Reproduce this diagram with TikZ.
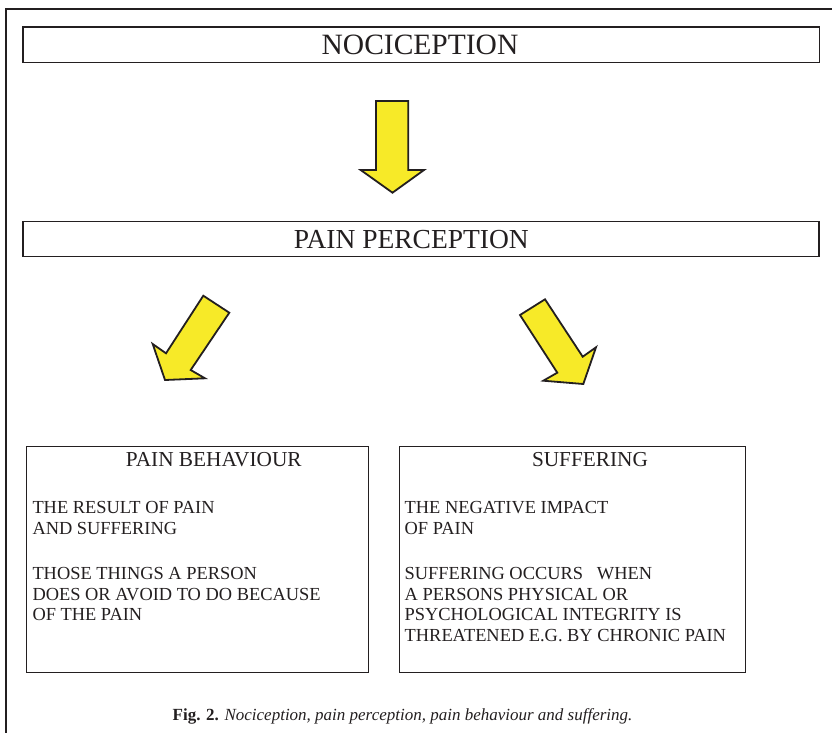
\documentclass[tikz,border=0pt]{standalone}
\usepackage{fontspec}
\setmainfont{Liberation Serif}
\definecolor{arrowyellow}{RGB}{247,234,40}
\definecolor{ink}{RGB}{35,31,32}
\begin{document}
\begin{tikzpicture}[x=1pt,y=-1pt,
  bigbox/.style={draw=ink, line width=1.2pt, inner sep=0pt, anchor=north west},
  smallbox/.style={draw=ink, line width=0.9pt, inner sep=0pt, anchor=north west},
  yarrow/.style={fill=arrowyellow, draw=ink, line width=1.8pt, line join=miter},
  headtext/.style={font=\fontsize{27.5}{32}\selectfont, text=ink, inner sep=0pt, anchor=base},
  titletext/.style={font=\fontsize{21.3}{25}\selectfont, text=ink, inner sep=0pt, anchor=base},
  bodytext/.style={font=\fontsize{18.4}{21}\selectfont, text=ink, inner sep=0pt, anchor=base west},
  captext/.style={font=\fontsize{17}{20}\selectfont, text=ink, inner sep=0pt, anchor=base}]
\useasboundingbox (0,0) rectangle (832,732);
% outer frame (top and left edges)
\draw[ink, line width=2.4pt, line join=miter] (6.1,733) -- (6.1,9.2) -- (833,9.2);
% top boxes
\node[bigbox, minimum width=796.2pt, minimum height=35.4pt] (nocibox) at (22.3,26.3) {};
\node[headtext, font=\fontsize{29.5}{34}\selectfont] (noci) at (420,54) {NOCICEPTION};
\node[bigbox, minimum width=796pt, minimum height=35.3pt] (percbox) at (22.3,220.7) {};
\node[headtext] (perc) at (411.3,248.3) {PAIN PERCEPTION};
% arrows
\draw[yarrow] (376,101) -- (408.3,101) -- (408.3,170) -- (424,170) -- (392.5,192.7) -- (360.7,170) -- (376,170) -- cycle;
\draw[yarrow] (203.3,295.7) -- (229.3,312.7) -- (190.7,370) -- (205,378.3) -- (165,380) -- (152.7,344) -- (166,353.3) -- cycle;
\draw[yarrow] (520,315) -- (545,299.3) -- (582.7,356.7) -- (596,347.3) -- (583.3,384) -- (543.3,380.7) -- (557.3,372.7) -- cycle;
% bottom boxes
\node[smallbox, minimum width=341.4pt, minimum height=225.7pt] (behbox) at (26.3,446) {};
\node[smallbox, minimum width=345.7pt, minimum height=225.7pt] (sufbox) at (399.3,446) {};
\node[titletext] (behtitle) at (213.8,466) {PAIN BEHAVIOUR};
\node[titletext] (suftitle) at (590,466) {SUFFERING};
\node[bodytext] (b1) at (32.3,513.3) {THE RESULT OF PAIN};
\node[bodytext] (b2) at (32.3,534) {AND SUFFERING};
\node[bodytext] (b3) at (32.3,579.3) {THOSE THINGS A PERSON};
\node[bodytext] (b4) at (32.3,600) {DOES OR AVOID TO DO BECAUSE};
\node[bodytext] (b5) at (32.3,620.7) {OF THE PAIN};
\node[bodytext] (s1) at (404.5,513.3) {THE NEGATIVE IMPACT};
\node[bodytext] (s2) at (404.5,534) {OF PAIN};
\node[bodytext] (s3) at (404.5,579.3) {SUFFERING OCCURS\hspace{0.75em}WHEN};
\node[bodytext] (s4) at (404.5,600) {A PERSONS PHYSICAL OR};
\node[bodytext] (s5) at (404.5,620.7) {PSYCHOLOGICAL INTEGRITY IS};
\node[bodytext] (s6) at (404.5,641.7) {THREATENED E.G. BY CHRONIC PAIN};
% caption
\node[captext] (cap) at (402.5,720) {\textbf{Fig. 2.} \textit{Nociception, pain perception, pain behaviour and suffering.}};
\end{tikzpicture}
\end{document}
